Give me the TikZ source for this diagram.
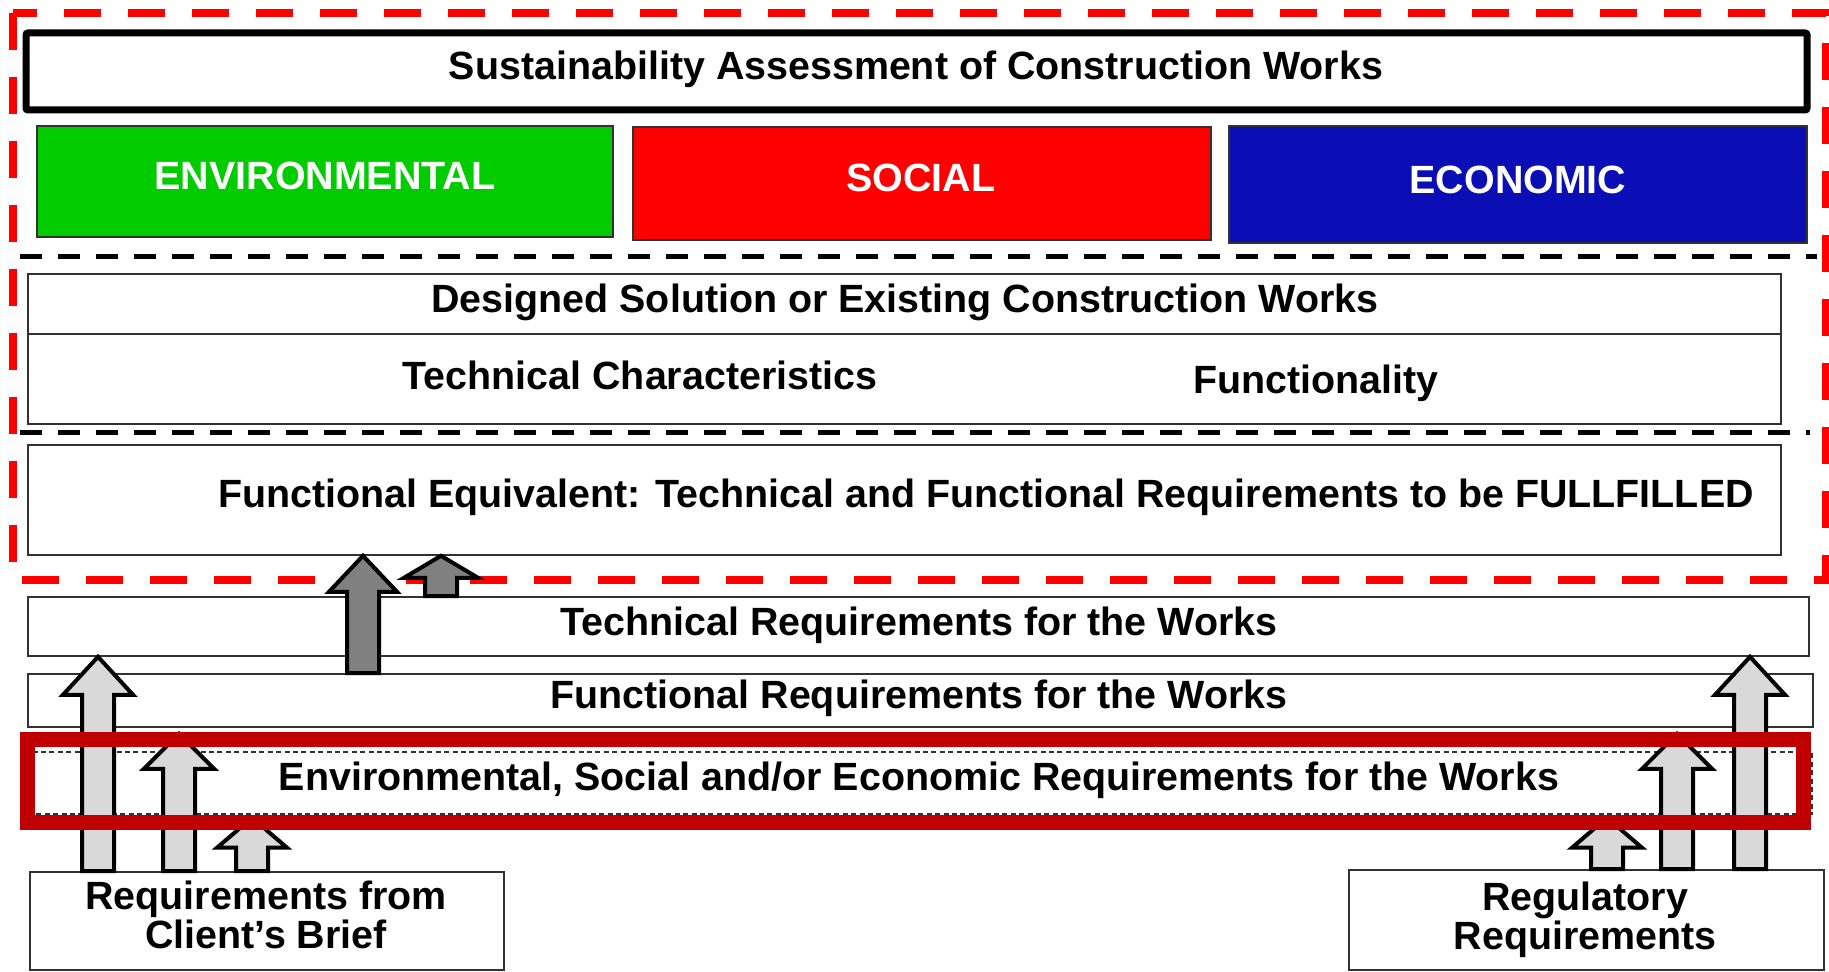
\documentclass[tikz,border=0pt]{standalone}
\usepackage{fontspec}
\setmainfont{Liberation Sans}
\usetikzlibrary{fit,calc}

\definecolor{envgreen}{RGB}{0,204,0}
\definecolor{socred}{RGB}{255,0,0}
\definecolor{ecoblue}{RGB}{10,14,180}
\definecolor{bandred}{RGB}{192,0,0}
\definecolor{edgegray}{RGB}{50,50,50}
\definecolor{lightfill}{RGB}{217,217,217}
\definecolor{darkfill}{RGB}{128,128,128}

\tikzset{
  box/.style={draw=edgegray, line width=0.8pt, inner sep=0pt, fill=white},
  lbl/.style={anchor=base, inner sep=0pt, font=\bfseries\fontsize{19.7pt}{18pt}\selectfont},
  blockarrow/.style={draw=black, line width=2pt, line join=miter},
}

\begin{document}
\begin{tikzpicture}[x=0.5pt, y=-0.5pt]
\useasboundingbox (0,0) rectangle (1829,972);

% frame of the assessment part
\draw[socred, line width=4pt, dash pattern=on 18.5pt off 13.5pt] (13,13) rectangle (1826,580);
\draw[black, line width=2.5pt, dash pattern=on 11pt off 8pt] (20,257) -- (1817,257);
\draw[black, line width=2.5pt, dash pattern=on 11pt off 8pt] (20,433) -- (1810,433);

% top: assessment and the three pillars
\node[box, draw=black, line width=3.5pt, rounded corners=1pt, fit={(26,33) (1807,110)}] (assess) {};
\node[lbl] (assesstxt) at (916,80) {Sustainability Assessment of Construction Works};

\node[box, fill=envgreen, fit={(37,126) (613,237)}] (env) {};
\node[box, fill=socred, fit={(633,127) (1211,240)}] (soc) {};
\node[box, fill=ecoblue, fit={(1229,126) (1807,243)}] (eco) {};
\node[lbl, text=white] (envtxt) at (325,190) {ENVIRONMENTAL};
\node[lbl, text=white] (soctxt) at (921,192) {SOCIAL};
\node[lbl, text=white] (ecotxt) at (1518,194) {ECONOMIC};

% the building and what it has to fulfil
\node[box, fit={(28,274) (1781,424)}] (ds) {};
\draw[edgegray, line width=0.8pt] (28,334) -- (1781,334);
\node[lbl] (dstxt) at (905,313) {Designed Solution or Existing Construction Works};
\node[lbl] (techchar) at (640,390) {Technical Characteristics};
\node[lbl] (functy) at (1316,394) {Functionality};

\node[box, fit={(28,445) (1781,555)}] (fe) {};
\node[lbl] (fetxt) at (986,507) {Functional Equivalent: Technical and Functional Requirements to be FULLFILLED};

% requirements
\node[box, fit={(28,597) (1809,656)}] (tr) {};
\node[lbl] (trtxt) at (919,635) {Technical Requirements for the Works};
\node[box, fit={(28,674) (1813,727)}] (fr) {};
\node[lbl] (frtxt) at (919,708) {Functional Requirements for the Works};
\node[box, dashed, dash pattern=on 2.5pt off 1.7pt, line width=0.7pt, fit={(28,752) (1812,814)}] (ese) {};
\node[lbl] (esetxt) at (919,790) {Environmental, Social and/or Economic Requirements for the Works};

\node[box, fit={(30,872) (504,970)}] (client) {};
\node[lbl, align=center] (clienttxt) at (266,948) {Requirements from\\Client’s Brief};
\node[box, fit={(1349,870) (1824,970)}] (reg) {};
\node[lbl, align=center] (regtxt) at (1585,949) {Regulatory\\Requirements};

% block arrows: x, from, to, gap below target, head length, head half width, fill
\foreach \ax/\src/\dst/\tgap/\hlen/\hw/\col in {
    363/fr/fe/0/36/17/darkfill, 441/tr/fe/0/22/18.5/darkfill,
    98/client/tr/0/38/17.5/lightfill, 179/client/fr/6/35/17.5/lightfill,
    252/client/ese/3/30/17.5/lightfill, 1607/reg/ese/3/30/17.5/lightfill,
    1677/reg/fr/6/35/17.5/lightfill, 1750/reg/tr/0/38/17.5/lightfill}
  \draw[blockarrow, fill=\col] let \p1=(\src.north), \p2=(\dst.south), \p3=(\ax,0),
      \n1={\y2-\tgap*0.5pt}, \n2={\y2-(\tgap+\hlen)*0.5pt} in
    ({\x3-8pt},\y1) -- ({\x3-8pt},\n2) -- ({\x3-\hw pt},\n2)
    -- (\x3,\n1) -- ({\x3+\hw pt},\n2) -- ({\x3+8pt},\n2)
    -- ({\x3+8pt},\y1) -- cycle;

% highlight round the sustainability requirements
\draw[bandred, line width=7.5pt] (27,739) rectangle (1803,822);
\end{tikzpicture}
\end{document}
